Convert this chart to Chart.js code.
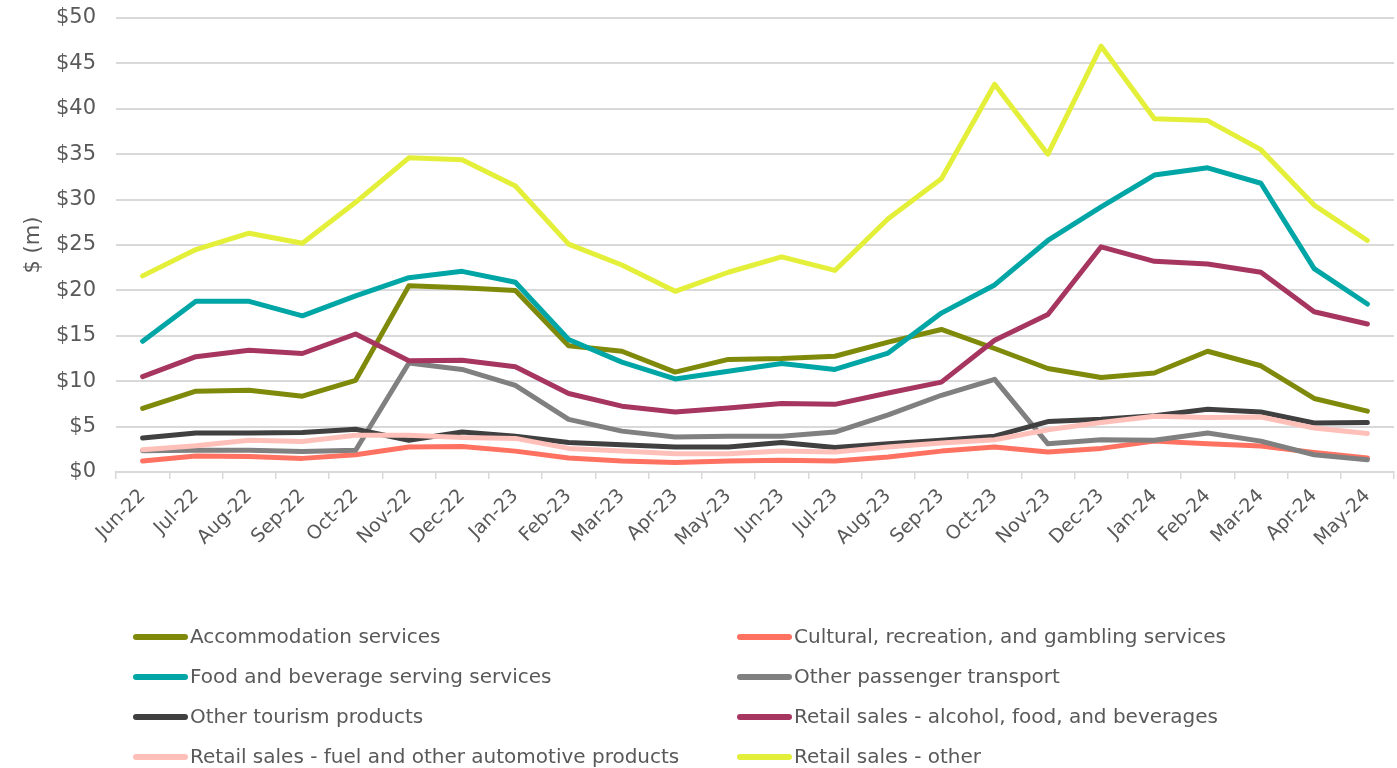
<!DOCTYPE html>
<html>
<head>
<meta charset="utf-8">
<title>Tourism spend</title>
<script src="https://cdn.jsdelivr.net/npm/chart.js@4.4.1/dist/chart.umd.min.js"></script>
<style>
  body { margin: 0; background: #fff; overflow: hidden; }
</style>
</head>
<body>
<canvas id="myChart" width="1397" height="768"></canvas>
<script>
const meses = ["Jun-22", "Jul-22", "Aug-22", "Sep-22", "Oct-22", "Nov-22", "Dec-22", "Jan-23",
  "Feb-23", "Mar-23", "Apr-23", "May-23", "Jun-23", "Jul-23", "Aug-23", "Sep-23", "Oct-23",
  "Nov-23", "Dec-23", "Jan-24", "Feb-24", "Mar-24", "Apr-24", "May-24"]

const accommodation = [7.0, 8.9, 9.0, 8.35, 10.1, 20.5, 20.3, 20.0, 13.9, 13.3, 11.0, 12.4, 12.5, 12.75, 14.3, 15.7, 13.6, 11.4, 10.4, 10.9, 13.3, 11.7, 8.1, 6.7]
const cultural = [1.2, 1.75, 1.7, 1.5, 1.9, 2.75, 2.8, 2.3, 1.55, 1.2, 1.05, 1.2, 1.3, 1.2, 1.65, 2.3, 2.75, 2.2, 2.6, 3.4, 3.1, 2.85, 2.15, 1.55]
const foodBeverage = [14.4, 18.8, 18.8, 17.2, 19.4, 21.4, 22.1, 20.9, 14.6, 12.1, 10.25, 11.1, 11.95, 11.3, 13.1, 17.5, 20.6, 25.5, 29.2, 32.7, 33.5, 31.8, 22.4, 18.5]
const otherTransport = [2.35, 2.4, 2.4, 2.25, 2.4, 12.0, 11.3, 9.55, 5.8, 4.5, 3.85, 3.95, 3.95, 4.4, 6.3, 8.45, 10.2, 3.1, 3.55, 3.5, 4.3, 3.4, 1.9, 1.35]
const otherTourism = [3.75, 4.3, 4.3, 4.35, 4.7, 3.5, 4.4, 3.95, 3.25, 3.0, 2.75, 2.75, 3.25, 2.7, 3.1, 3.5, 3.95, 5.55, 5.8, 6.2, 6.9, 6.6, 5.4, 5.45]
const retailAlcohol = [10.5, 12.7, 13.4, 13.05, 15.2, 12.25, 12.3, 11.6, 8.65, 7.25, 6.6, 7.05, 7.55, 7.45, 8.7, 9.9, 14.5, 17.35, 24.8, 23.2, 22.9, 22.0, 17.65, 16.3]
const retailFuel = [2.45, 2.9, 3.5, 3.35, 4.05, 4.05, 3.8, 3.7, 2.6, 2.3, 2.0, 2.0, 2.3, 2.2, 2.75, 3.2, 3.55, 4.65, 5.45, 6.15, 6.0, 6.05, 4.85, 4.25]
const retailOther = [21.6, 24.5, 26.3, 25.2, 29.7, 34.6, 34.4, 31.5, 25.1, 22.8, 19.9, 22.0, 23.7, 22.2, 27.9, 32.3, 42.7, 35.0, 46.9, 38.9, 38.7, 35.5, 29.4, 25.5]

const series = [
  ["Accommodation services", accommodation, "#7f8a0b"],
  ["Cultural, recreation, and gambling services", cultural, "#ff7261"],
  ["Food and beverage serving services", foodBeverage, "#00a6a6"],
  ["Other passenger transport", otherTransport, "#808080"],
  ["Other tourism products", otherTourism, "#404040"],
  ["Retail sales - alcohol, food, and beverages", retailAlcohol, "#a6355f"],
  ["Retail sales - fuel and other automotive products", retailFuel, "#ffc0ba"],
  ["Retail sales - other", retailOther, "#e3ef38"]
]

const fuente = "'DejaVu Sans', sans-serif"
const gris = "#595959"

// legend in two columns under the axis, drawn from the datasets
const leyenda = {
  id: "leyenda",
  afterDraw(chart) {
    const ctx = chart.ctx
    ctx.save()
    ctx.font = "20px " + fuente
    ctx.textBaseline = "middle"
    chart.data.datasets.forEach((ds, i) => {
      const x = i % 2 == 0 ? 133 : 737
      const y = 637 + Math.floor(i / 2) * 40
      ctx.strokeStyle = ds.borderColor
      ctx.lineWidth = 6
      ctx.lineCap = "round"
      ctx.beginPath()
      ctx.moveTo(x + 3, y)
      ctx.lineTo(x + 52, y)
      ctx.stroke()
      ctx.fillStyle = gris
      ctx.fillText(ds.label, x + 57, y + 1)
    })
    ctx.restore()
  }
}

function configuracionGrafica() {
  const datasets = series.map((s, i) => {
    return {
      label: s[0],
      data: s[1],
      borderColor: s[2],
      backgroundColor: s[2],
      borderWidth: 5,
      borderJoinStyle: "round",
      borderCapStyle: "round",
      pointRadius: 0,
      tension: 0,
      order: series.length - i
    }
  })
  return {
    type: "line",
    data: { labels: meses, datasets: datasets },
    options: {
      responsive: false,
      animation: false,
      layout: { padding: { top: 18, right: 3, left: 0, bottom: 0 } },
      plugins: { legend: { display: false }, tooltip: { enabled: false } },
      scales: {
        x: {
          offset: true,
          grid: { display: true, drawOnChartArea: false, offset: true, color: "#d9d9d9", lineWidth: 1.5, tickLength: 7 },
          border: { color: "#d9d9d9", width: 2 },
          ticks: { color: gris, font: { family: fuente, size: 19 }, minRotation: 45, maxRotation: 45, padding: 6, autoSkip: false },
          afterFit(axis) { axis.height = 296 }
        },
        y: {
          min: 0,
          max: 50,
          // the (invisible) tick marks give the gap between labels and grid
          grid: { color: "#d9d9d9", lineWidth: 2, drawTicks: true, tickLength: 20, tickColor: "rgba(0,0,0,0)" },
          border: { display: false },
          ticks: { stepSize: 5, color: gris, font: { family: fuente, size: 21 }, padding: 0, callback: (v) => "$" + v },
          title: { display: true, text: "$ (m)", color: gris, font: { family: fuente, size: 21 }, padding: { top: 21, bottom: 0 } },
          afterFit(axis) { axis.width = 116 }
        }
      }
    },
    plugins: [leyenda]
  }
}

const graficaDOM = document.getElementById("myChart")
new Chart(graficaDOM, configuracionGrafica())
</script>
</body>
</html>
